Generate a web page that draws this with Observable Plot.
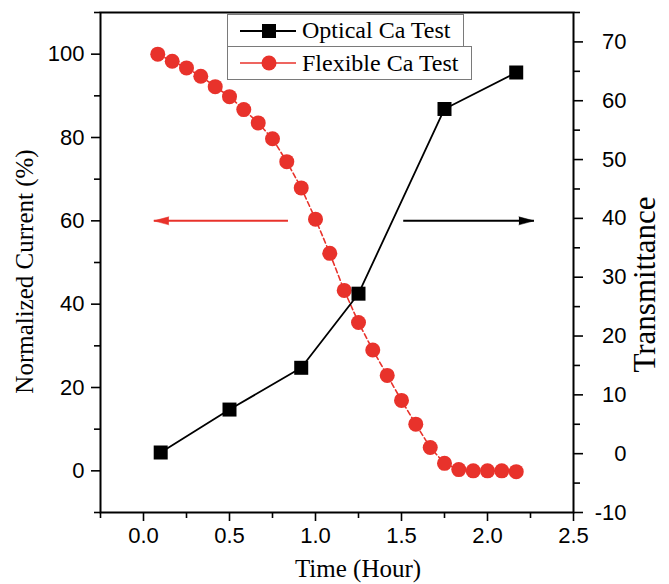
<!DOCTYPE html>
<html><head><meta charset="utf-8">
<script src="https://cdn.jsdelivr.net/npm/d3@7"></script>
<script src="https://cdn.jsdelivr.net/npm/@observablehq/plot@0.6"></script>
<style>
body{margin:0;background:#fff;}
#wrap{position:relative;width:669px;height:584px;overflow:hidden;}
.leg{position:absolute;border:1.5px solid #7a7a7a;background:#fff;font-family:"Liberation Serif","Times New Roman",serif;font-size:24px;box-sizing:border-box;display:flex;align-items:center;color:#000;}
.leg svg{margin-left:12px;margin-right:6px;}
</style></head><body><div id="wrap"></div>
<script>
// Flexible Ca test: normalized current (%) vs time (hour) — left axis
const redTime = [0.083,0.167,0.25,0.333,0.417,0.5,0.583,0.667,0.75,0.833,0.917,1.0,1.083,1.167,1.25,1.333,1.417,1.5,1.583,1.667,1.75,1.833,1.917,2.0,2.083,2.167];
const redCurrent = [100,98.3,96.7,94.7,92.2,89.8,86.7,83.5,79.7,74.2,67.9,60.4,52.2,43.3,35.6,29.0,22.9,16.9,11.2,5.6,1.8,0.3,0,0,0,-0.2];
// Optical Ca test: transmittance vs time — right axis
const blackTime = [0.1,0.5,0.917,1.25,1.75,2.167];
const blackTrans = [0.2,7.5,14.6,27.2,58.6,64.8];
// tick labels
const xMajor = [0,0.5,1,1.5,2,2.5];
const xMinor = [-0.25,0.25,0.75,1.25,1.75,2.25];
const leftMajor = [0,20,40,60,80,100];
const leftMinor = [-10,10,30,50,70,90,110];
const rightMajor = [-10,0,10,20,30,40,50,60,70];
const rightMinor = [-5,5,15,25,35,45,55,65,75];
// arrows (time extent, left-axis level)
const arrows = [
  {x1:0.84, x2:0.06, y:60, color:"#e8322b", dir:-90},
  {x1:1.51, x2:2.27, y:60, color:"#000", dir:90}
];

const RED = "#e8322b";
const leftDomain = [-10,110], rightDomain = [-10,75];
const toLeft = r => leftDomain[0] + (r - rightDomain[0]) * (leftDomain[1]-leftDomain[0])/(rightDomain[1]-rightDomain[0]);
const toRight = l => rightDomain[0] + (l - leftDomain[0]) * (rightDomain[1]-rightDomain[0])/(leftDomain[1]-leftDomain[0]);

const red = redTime.map((t,i)=>({t, v:redCurrent[i]}));
const black = blackTime.map((t,i)=>({t, v:toLeft(blackTrans[i])}));

const tickFont = {fontSize:22, fontFamily:"Liberation Sans, Arial, sans-serif"};
const serif = "Liberation Serif, Times New Roman, serif";

const chart = Plot.plot({
  width:669, height:584,
  marginLeft:100, marginRight:96, marginTop:12, marginBottom:72,
  x:{domain:[-0.25,2.5]},
  y:{domain:leftDomain},
  style:{background:"#fff", color:"#000", fontFamily:"Liberation Sans, Arial, sans-serif"},
  marks:[
    Plot.axisX(xMinor, {tickSize:6, text:null, strokeWidth:1.6, label:null}),
    Plot.axisX(xMajor, {tickSize:9, tickPadding:6, strokeWidth:1.6, tickFormat:d=>d.toFixed(1), label:null, ...tickFont}),
    Plot.axisY(leftMinor, {tickSize:6, text:null, strokeWidth:1.6, label:null}),
    Plot.axisY(leftMajor, {tickSize:9, tickPadding:7, strokeWidth:1.6, label:null, ...tickFont}),
    Plot.axisY(rightMinor.map(toLeft), {anchor:"right", tickSize:6, text:null, strokeWidth:1.6, label:null}),
    Plot.axisY(rightMajor.map(toLeft), {anchor:"right", tickSize:9, tickPadding:44, textAnchor:"end", strokeWidth:1.6, label:null, tickFormat:d=>`${Math.round(toRight(d))}`, ...tickFont}),
    Plot.frame({stroke:"#000", strokeWidth:2}),
    Plot.text(["Time (Hour)"], {frameAnchor:"bottom", textAnchor:"middle", dx:21, dy:56, lineAnchor:"middle", fontSize:25, fontFamily:serif}),
    Plot.text(["Normalized Current (%)"], {frameAnchor:"left", textAnchor:"middle", rotate:-90, dx:-76, dy:9, lineAnchor:"middle", fontSize:25, fontFamily:serif}),
    Plot.text(["Transmittance"], {frameAnchor:"right", textAnchor:"middle", rotate:-90, dx:72, dy:22, lineAnchor:"middle", fontSize:31, fontFamily:serif}),
    Plot.link(arrows, {x1:"x1", x2:"x2", y1:"y", y2:"y", stroke:"color", strokeWidth:2}),
    Plot.vector(arrows, {x:"x2", y:"y", rotate:"dir", length:15, r:4, shape:"spike", anchor:"end", fill:"color", stroke:"color", strokeWidth:0.5}),
    Plot.line(red, {x:"t", y:"v", stroke:RED, strokeWidth:1.6, strokeDasharray:"5,3"}),
    Plot.dot(red, {x:"t", y:"v", r:7.5, fill:RED, stroke:"none"}),
    Plot.line(black, {x:"t", y:"v", stroke:"#000", strokeWidth:1.8}),
    Plot.dot(black, {x:"t", y:"v", symbol:"square", r:7.9, fill:"#000", stroke:"none"})
  ]
});
const wrap = document.getElementById("wrap");
wrap.appendChild(chart);

function legendBox(left, top, w, h, label, sym){
  const d = document.createElement("div");
  d.className = "leg";
  Object.assign(d.style, {left:left+"px", top:top+"px", width:w+"px", height:h+"px"});
  const mk = sym === "square"
    ? `<line x1="0" y1="10" x2="56" y2="10" stroke="#000" stroke-width="1.8"/><rect x="22" y="3" width="14" height="14" fill="#000"/>`
    : `<line x1="0" y1="10" x2="56" y2="10" stroke="${RED}" stroke-width="1.6"/><circle cx="29" cy="10" r="7.5" fill="${RED}"/>`;
  d.innerHTML = `<svg width="56" height="20">${mk}</svg><span>${label}</span>`;
  wrap.appendChild(d);
}
legendBox(227, 14, 237, 33, "Optical Ca Test", "square");
legendBox(227, 46, 245, 34, "Flexible Ca Test", "circle");
</script></body></html>
